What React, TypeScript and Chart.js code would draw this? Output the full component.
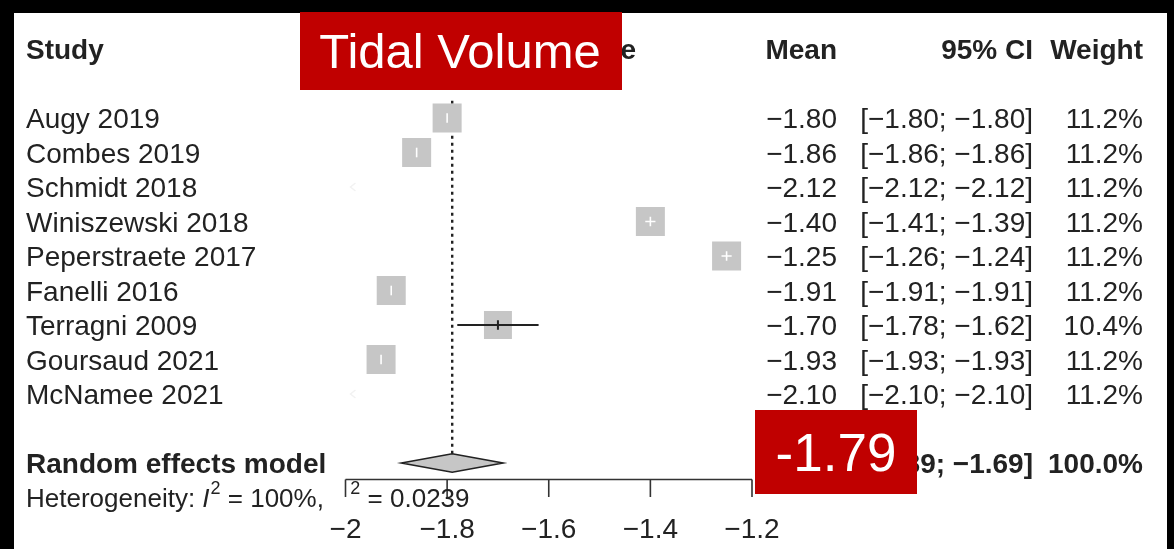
import { useEffect, useRef } from 'react';
import { Chart, registerables } from 'chart.js';

Chart.register(...registerables);

// ---- data ----
const studies = [
  'Augy 2019',
  'Combes 2019',
  'Schmidt 2018',
  'Winiszewski 2018',
  'Peperstraete 2017',
  'Fanelli 2016',
  'Terragni 2009',
  'Goursaud 2021',
  'McNamee 2021',
];
const means = [-1.8, -1.86, -2.12, -1.4, -1.25, -1.91, -1.7, -1.93, -2.1];
const ciLower = [-1.8, -1.86, -2.12, -1.41, -1.26, -1.91, -1.78, -1.93, -2.1];
const ciUpper = [-1.8, -1.86, -2.12, -1.39, -1.24, -1.91, -1.62, -1.93, -2.1];
const weights = [11.2, 11.2, 11.2, 11.2, 11.2, 11.2, 10.4, 11.2, 11.2];

const pooledMean = -1.79;
const pooledLower = -1.89;
const pooledUpper = -1.69;
const pooledWeight = 100.0;
const i2Text = '100%';
const tau2Text = '0.0239';

const xTicks = [-2, -1.8, -1.6, -1.4, -1.2];
const headers = { study: 'Study', plot: 'Mean Difference', mean: 'Mean', ci: '95% CI', weight: 'Weight' };
const pooledLabel = 'Random effects model';
const titleBadge = 'Tidal Volume';

// ---- layout / style ----
const W = 1174;
const H = 549;
const PLOT_LEFT = 345.5;
const PLOT_RIGHT = 752;
const AREA_TOP = 13;
const AXIS_Y = 479.5;
const ROW0_Y = 118;
const ROW_PITCH = 34.5;
const Y_MIN = -(ROW0_Y - AREA_TOP) / ROW_PITCH;
const Y_MAX = (AXIS_Y - ROW0_Y) / ROW_PITCH;

const FONT = '"Liberation Sans", Arial, Helvetica, sans-serif';
const TEXT = '#222222';
const SQUARE_FILL = '#c6c6c6';
const RED = '#c00000';
const SQUARE_K = 8.67; // square side in px per sqrt(weight)
const DIAMOND_HALF_H = 9.2;

const STUDY_X = 26;
const PLOT_HEADER_RIGHT = 636;
const MEAN_RIGHT = 837;
const CI_RIGHT = 1033;
const WEIGHT_RIGHT = 1143;

const pooledRow = studies.length + 1;
const hetRow = studies.length + 2;
const headerRow = -2;

const fmt = (v: number) => (v < 0 ? '\u2212' : '') + Math.abs(v).toFixed(2);
const fmtTick = (v: number) => (v < 0 ? '\u2212' : '') + String(Math.abs(v));
const fmtCI = (lo: number, hi: number) => `[${fmt(lo)}; ${fmt(hi)}]`;

function text(
  ctx: CanvasRenderingContext2D,
  s: string,
  x: number,
  yc: number,
  align: CanvasTextAlign,
  size = 28,
  weight = 'normal',
  color = TEXT,
  style = 'normal'
) {
  ctx.font = `${style} ${weight} ${size}px ${FONT}`;
  ctx.fillStyle = color;
  ctx.textAlign = align;
  ctx.textBaseline = 'alphabetic';
  ctx.fillText(s, x, yc + size * 0.358);
  return ctx.measureText(s).width;
}

const forestPlugin = {
  id: 'forestDecor',
  beforeDatasetsDraw(chart: any) {
    const { ctx, scales } = chart;
    const x = scales.x;
    const y = scales.y;
    const px = x.getPixelForValue(pooledMean);
    ctx.save();
    ctx.strokeStyle = '#222222';
    ctx.lineWidth = 2.4;
    ctx.setLineDash([3, 4]);
    ctx.beginPath();
    ctx.moveTo(px, y.getPixelForValue(-0.5));
    ctx.lineTo(px, y.getPixelForValue(pooledRow) - DIAMOND_HALF_H);
    ctx.stroke();
    ctx.restore();
  },
  afterDatasetsDraw(chart: any) {
    const { ctx, scales } = chart;
    const x = scales.x;
    const y = scales.y;
    const xL = x.getPixelForValue(xTicks[0]);
    ctx.save();

    // confidence intervals and point ticks
    means.forEach((m, i) => {
      const yc = y.getPixelForValue(i);
      if (m < x.min || m > x.max) {
        // out of range: faint arrow at the left edge
        ctx.strokeStyle = '#f2f2f2';
        ctx.lineWidth = 1.5;
        ctx.beginPath();
        ctx.moveTo(xL + 10, yc - 4);
        ctx.lineTo(xL + 5, yc);
        ctx.lineTo(xL + 10, yc + 4);
        ctx.stroke();
        return;
      }
      const half = (SQUARE_K * Math.sqrt(weights[i])) / 2;
      const pm = x.getPixelForValue(m);
      const plo = x.getPixelForValue(ciLower[i]);
      const phi = x.getPixelForValue(ciUpper[i]);
      const inside = plo >= pm - half && phi <= pm + half;
      ctx.strokeStyle = inside ? '#ffffff' : '#222222';
      ctx.lineWidth = inside ? 1.6 : 2;
      ctx.beginPath();
      ctx.moveTo(plo, yc);
      ctx.lineTo(phi, yc);
      ctx.moveTo(pm, yc - 4.8);
      ctx.lineTo(pm, yc + 4.8);
      ctx.stroke();
    });

    // pooled diamond
    const yd = y.getPixelForValue(pooledRow);
    ctx.beginPath();
    ctx.moveTo(x.getPixelForValue(pooledLower), yd);
    ctx.lineTo(x.getPixelForValue(pooledMean), yd - DIAMOND_HALF_H);
    ctx.lineTo(x.getPixelForValue(pooledUpper), yd);
    ctx.lineTo(x.getPixelForValue(pooledMean), yd + DIAMOND_HALF_H);
    ctx.closePath();
    ctx.fillStyle = SQUARE_FILL;
    ctx.fill();
    ctx.strokeStyle = '#222222';
    ctx.lineWidth = 1.6;
    ctx.stroke();

    // x axis
    const ay = chart.chartArea.bottom;
    ctx.strokeStyle = '#333333';
    ctx.lineWidth = 1.6;
    ctx.beginPath();
    ctx.moveTo(x.getPixelForValue(xTicks[0]), ay);
    ctx.lineTo(x.getPixelForValue(xTicks[xTicks.length - 1]), ay);
    xTicks.forEach((t) => {
      const tx = x.getPixelForValue(t);
      ctx.moveTo(tx, ay);
      ctx.lineTo(tx, ay + 17.5);
    });
    ctx.stroke();
    xTicks.forEach((t) => text(ctx, fmtTick(t), x.getPixelForValue(t), 528, 'center'));

    // header row
    const yh = y.getPixelForValue(headerRow);
    text(ctx, headers.study, STUDY_X, yh, 'left', 28, 'bold');
    text(ctx, headers.plot, PLOT_HEADER_RIGHT, yh, 'right', 28, 'bold');
    text(ctx, headers.mean, MEAN_RIGHT, yh, 'right', 28, 'bold');
    text(ctx, headers.ci, CI_RIGHT, yh, 'right', 28, 'bold');
    text(ctx, headers.weight, WEIGHT_RIGHT, yh, 'right', 28, 'bold');

    // study rows
    studies.forEach((s, i) => {
      const yc = y.getPixelForValue(i);
      text(ctx, s, STUDY_X, yc, 'left');
      text(ctx, fmt(means[i]), MEAN_RIGHT, yc, 'right');
      text(ctx, fmtCI(ciLower[i], ciUpper[i]), CI_RIGHT, yc, 'right');
      text(ctx, weights[i].toFixed(1) + '%', WEIGHT_RIGHT, yc, 'right');
    });

    // pooled row
    text(ctx, pooledLabel, STUDY_X, yd, 'left', 28, 'bold');
    text(ctx, fmt(pooledMean), MEAN_RIGHT, yd, 'right', 28, 'bold');
    text(ctx, fmtCI(pooledLower, pooledUpper), CI_RIGHT, yd, 'right', 28, 'bold');
    text(ctx, pooledWeight.toFixed(1) + '%', WEIGHT_RIGHT, yd, 'right', 28, 'bold');

    // heterogeneity line
    const yt = y.getPixelForValue(hetRow);
    let cx = STUDY_X;
    cx += text(ctx, 'Heterogeneity: ', cx, yt, 'left', 26);
    cx += text(ctx, 'I', cx, yt, 'left', 26, 'normal', TEXT, 'italic') + 1;
    cx += text(ctx, '2', cx, yt - 10, 'left', 18);
    cx += text(ctx, ' = ' + i2Text + ',  ', cx, yt, 'left', 26);
    cx += 12;
    cx += text(ctx, '2', cx, yt - 10, 'left', 18);
    text(ctx, ' = ' + tau2Text, cx, yt, 'left', 26);

    ctx.restore();
  },
  afterDraw(chart: any) {
    const { ctx } = chart;
    ctx.save();
    // title badge
    ctx.fillStyle = RED;
    ctx.fillRect(300, 12, 322, 78);
    text(ctx, titleBadge, 460, 50, 'center', 49, 'normal', '#ffffff');
    // pooled estimate badge
    ctx.fillStyle = RED;
    ctx.fillRect(755, 410, 162, 84);
    text(ctx, pooledMean.toFixed(2), 836, 452, 'center', 53, 'normal', '#ffffff');
    ctx.restore();
  },
};

export default function App() {
  const canvasRef = useRef<HTMLCanvasElement | null>(null);

  useEffect(() => {
    const canvas = canvasRef.current;
    if (!canvas) return;
    const chart = new Chart(canvas, {
      type: 'scatter',
      data: {
        datasets: [
          {
            data: means.map((m, i) => ({ x: m, y: i })),
            pointStyle: 'rect',
            pointRadius: weights.map((w) => (SQUARE_K * Math.sqrt(w)) / Math.SQRT2),
            pointBackgroundColor: SQUARE_FILL,
            pointBorderWidth: 0,
            clip: 0,
          } as any,
        ],
      },
      options: {
        responsive: false,
        animation: false,
        events: [],
        layout: {
          autoPadding: false,
          padding: { left: PLOT_LEFT, right: W - PLOT_RIGHT, top: AREA_TOP, bottom: H - AXIS_Y },
        },
        scales: {
          x: { type: 'linear', min: xTicks[0], max: xTicks[xTicks.length - 1], display: false },
          y: { type: 'linear', min: Y_MIN, max: Y_MAX, reverse: true, display: false },
        },
        plugins: { legend: { display: false }, tooltip: { enabled: false } },
      },
      plugins: [forestPlugin],
    } as any);
    return () => chart.destroy();
  }, []);

  return (
    <div
      style={{
        position: 'fixed',
        left: 0,
        top: 0,
        width: W,
        height: H,
        background: '#000',
        overflow: 'hidden',
      }}
    >
      <div style={{ position: 'absolute', left: 14, top: 13, width: 1153, height: H - 13, background: '#fff' }} />
      <canvas
        ref={canvasRef}
        width={W}
        height={H}
        style={{ position: 'absolute', left: 0, top: 0, width: W, height: H }}
      />
    </div>
  );
}
